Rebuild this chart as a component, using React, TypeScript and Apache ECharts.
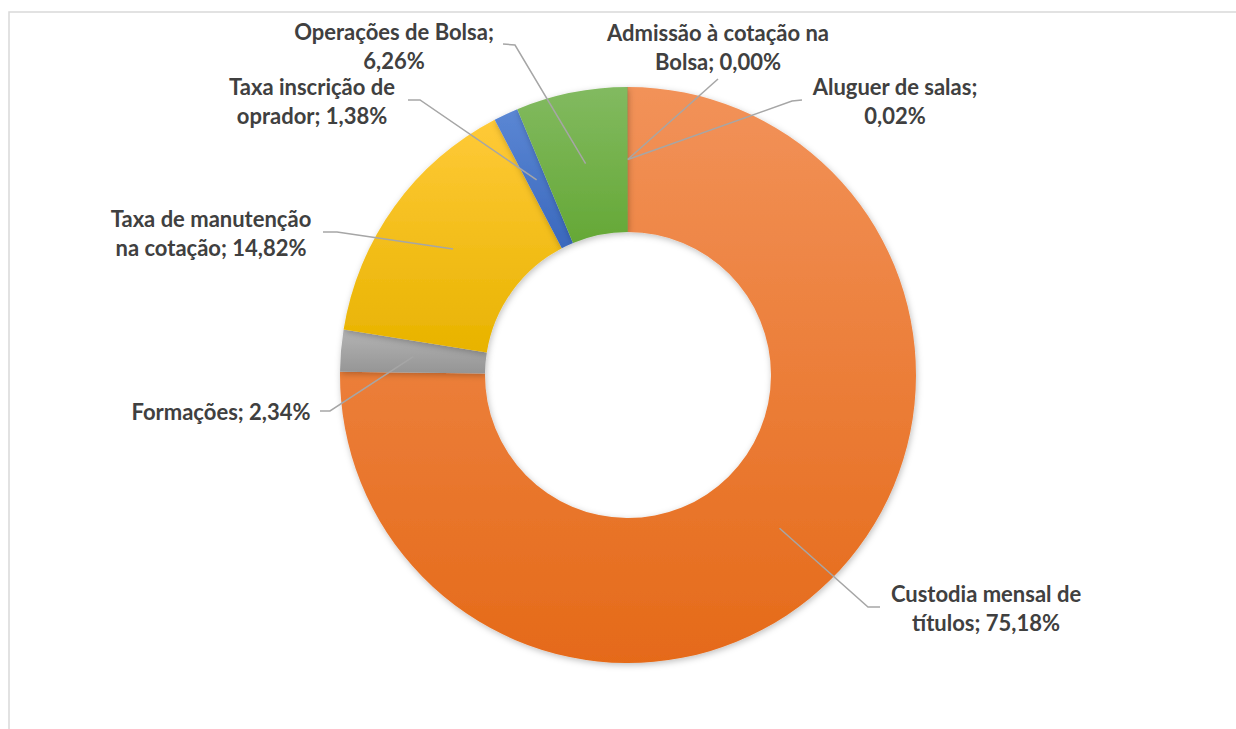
import React, { useEffect, useRef } from "react";
import * as echarts from "echarts";

const categories = [
  "Custodia mensal de títulos",
  "Formações",
  "Taxa de manutenção na cotação",
  "Taxa inscrição de oprador",
  "Operações de Bolsa",
  "Admissão à cotação na Bolsa",
  "Aluguer de salas",
];
const values = [75.18, 2.34, 14.82, 1.38, 6.26, 0.0, 0.02];
// number of words on the first label line (0 = single line)
const firstLineWords = [3, 0, 3, 3, 3, 4, 3];
const colorsTop = ["#F29259", "#B4B4B4", "#FFCA38", "#5B87D4", "#82BA60", "#264478", "#9E480E"];
const colorsBottom = ["#E56A19", "#959595", "#E8B300", "#3A68BD", "#65A836", "#264478", "#9E480E"];

// label block centers and leader elbows (layout)
const labelPos = [
  { x: 986, y: 608, elbow: [868, 607], end: [880, 607] },
  { x: 221, y: 411, elbow: [330, 411], end: [320, 411] },
  { x: 211, y: 233, elbow: [337, 232], end: [323, 232] },
  { x: 312, y: 101, elbow: [420, 100], end: [408, 100] },
  { x: 394, y: 46, elbow: [515, 45], end: [503, 44] },
  { x: 718, y: 47, elbow: [718, 79], end: [718, 79] },
  { x: 895, y: 101, elbow: [792, 101], end: [802, 100] },
];

const CX = 628;
const CY = 375;
const R_IN = 143;
const R_OUT = 288;

function fmt(i: number): string {
  const words = (categories[i] + ";").split(" ");
  words.push(values[i].toFixed(2).replace(".", ",") + "%");
  const n = firstLineWords[i];
  if (n <= 0) return words.join(" ");
  return words.slice(0, n).join(" ") + "\n" + words.slice(n).join(" ");
}

export default function App() {
  const ref = useRef<HTMLDivElement>(null);
  useEffect(() => {
    if (!ref.current) return;
    const chart = echarts.init(ref.current, undefined, { renderer: "svg" });
    const total = values.reduce((a, b) => a + b, 0);
    const anchors = values.map((v, i) => {
      const before = values.slice(0, i).reduce((a, b) => a + b, 0);
      const mid = ((before + v / 2) / total) * Math.PI * 2;
      const rm = (R_IN + R_OUT) / 2;
      return [CX + rm * Math.sin(mid), CY - rm * Math.cos(mid)];
    });
    const common = {
      type: "pie",
      center: [CX, CY],
      radius: [R_IN, R_OUT],
      startAngle: 90,
      clockwise: true,
      avoidLabelOverlap: false,
      minShowLabelAngle: 0,
      emphasis: { disabled: true },
      silent: true,
    };
    chart.setOption({
      animation: false,
      backgroundColor: "#FFFFFF",
      graphic: [
        {
          type: "rect",
          shape: { x: 9, y: 12, width: 1400, height: 900 },
          style: { fill: "none", stroke: "#D9D9D9", lineWidth: 1.5 },
          silent: true,
        },
      ],
      series: [
        {
          ...common,
          z: 2,
          data: categories.map((c, i) => ({
            name: c,
            value: values[i],
            itemStyle: {
              color: new echarts.graphic.LinearGradient(0, 0, 0, 1, [
                { offset: 0, color: colorsTop[i] },
                { offset: 1, color: colorsBottom[i] },
              ]),
            },
          })),
          itemStyle: {
            borderWidth: 0,
            shadowBlur: 6,
            shadowColor: "rgba(0,0,0,0.25)",
            shadowOffsetX: 1,
            shadowOffsetY: 2,
          },
          label: { show: false },
          labelLine: { show: false },
        },
        {
          ...common,
          z: 5,
          data: categories.map((c, i) => ({ name: c, value: values[i] })),
          itemStyle: { color: "rgba(0,0,0,0)", borderWidth: 0 },
          label: {
            show: true,
            position: "outside",
            formatter: (p: any) => fmt(p.dataIndex),
            fontFamily: "Lato, 'Open Sans', sans-serif",
            fontWeight: "bold",
            fontSize: 22,
            lineHeight: 29,
            color: "#404040",
            align: "center",
          },
          labelLine: {
            show: true,
            lineStyle: { color: "#A6A6A6", width: 1.5 },
          },
          labelLayout: (params: any) => {
            const i = params.dataIndex;
            const lp = labelPos[i];
            return {
              x: lp.x,
              y: lp.y,
              align: "center",
              verticalAlign: "middle",
              labelLinePoints: [anchors[i], lp.elbow, lp.end],
            };
          },
        },
      ],
    });
    return () => chart.dispose();
  }, []);
  return (
    <div
      ref={ref}
      style={{ position: "absolute", left: 0, top: 0, width: 1236, height: 729 }}
    />
  );
}
